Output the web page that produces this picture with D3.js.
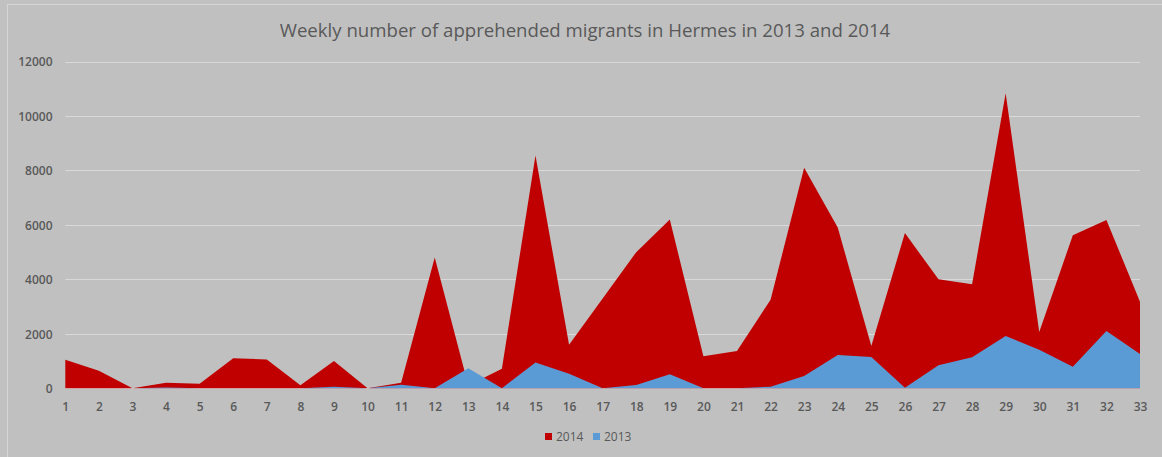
<!DOCTYPE html>
<html><head><meta charset="utf-8">
<script src="https://cdn.jsdelivr.net/npm/d3@7"></script>
<style>
html,body{margin:0;padding:0;background:#c1c1c1;}
svg{display:block;}
</style></head>
<body>
<svg id="chart" width="1162" height="457"></svg>
<script>
const weeks = d3.range(1, 34);
const values2014 = [1050, 640, 0, 200, 170, 1100, 1060, 110, 1000, 0, 200, 4800, 100, 720, 8550, 1600, 3300, 5000, 6200, 1180, 1370, 3250, 8100, 5900, 1550, 5700, 4000, 3820, 10830, 2070, 5620, 6180, 3180];
const values2013 = [0, 0, 0, 30, 0, 0, 0, 0, 60, 0, 130, 0, 740, 0, 950, 530, 0, 120, 520, 0, 0, 60, 450, 1220, 1150, 20, 850, 1140, 1920, 1420, 790, 2100, 1260];
const yTicks = [0, 2000, 4000, 6000, 8000, 10000, 12000];
const seriesNames = ["2014", "2013"];
const colors = {"2014": "#c00000", "2013": "#5b9bd5"};
const title = "Weekly number of apprehended migrants in Hermes in 2013 and 2014";

const svg = d3.select("#chart");
const W = 1162, H = 457;
const m = {left: 65.3, right: 1140, top: 61.5, bottom: 388.3};

// frame
svg.append("rect").attr("x", 7.5).attr("y", 4.5).attr("width", W).attr("height", H)
  .attr("fill", "#c0c0c0").attr("stroke", "#d6d6d6").attr("stroke-width", 1);

const x = d3.scalePoint().domain(weeks).range([m.left, m.right]);
const y = d3.scaleLinear().domain([0, 12000]).range([m.bottom, m.top]);

// gridlines
svg.append("g").selectAll("line").data(yTicks).join("line")
  .attr("x1", m.left).attr("x2", m.right)
  .attr("y1", d => Math.round(y(d)) + 0.5).attr("y2", d => Math.round(y(d)) + 0.5)
  .attr("stroke", "#d9d9d9").attr("stroke-width", 1);

const area = d3.area().x(d => x(d.w)).y0(y(0)).y1(d => y(d.v));
const data2014 = weeks.map((w, i) => ({w, v: values2014[i]}));
const data2013 = weeks.map((w, i) => ({w, v: values2013[i]}));

svg.append("path").datum(data2014).attr("d", area).attr("fill", colors["2014"]);
svg.append("path").datum(data2013).attr("d", area).attr("fill", colors["2013"]);

// y axis labels
const yAxis = d3.axisLeft(y).tickValues(yTicks).tickSize(0).tickPadding(0).tickFormat(d3.format("d"));
const gy = svg.append("g").attr("transform", `translate(${52.5},0)`).call(yAxis);
gy.select(".domain").remove();
gy.selectAll("text").attr("fill", "#595959").style("font-family", "'Open Sans', sans-serif")
  .style("font-size", "12px").style("font-weight", "600").attr("dy", "0.36em");

// x axis labels
const xAxis = d3.axisBottom(x).tickSize(0).tickPadding(0);
const gx = svg.append("g").attr("transform", `translate(0,${410.7})`).call(xAxis);
gx.select(".domain").remove();
gx.selectAll("text").attr("fill", "#595959").style("font-family", "'Open Sans', sans-serif")
  .style("font-size", "12px").style("font-weight", "600").attr("y", 0).attr("dy", 0);

// title
const t = svg.append("text").attr("x", 585).attr("y", 37).attr("text-anchor", "middle")
  .attr("fill", "#595959").style("font-family", "'Open Sans', sans-serif")
  .style("font-size", "20px").style("font-weight", "400").text(title);
const tw = t.node().getComputedTextLength();
t.style("font-size", (20 * 611 / tw).toFixed(2) + "px");

// legend
const legend = svg.append("g").attr("transform", "translate(545,432)");
const items = [{name: "2014", x: 0}, {name: "2013", x: 48}];
items.forEach(it => {
  legend.append("rect").attr("x", it.x).attr("y", 1).attr("width", 7).attr("height", 7).attr("fill", colors[it.name]);
  legend.append("text").attr("x", it.x + 11).attr("y", 4.5).attr("dy", "0.35em")
    .attr("fill", "#595959").style("font-family", "'Open Sans', sans-serif").style("font-size", "12px").text(it.name);
});
</script>
</body></html>
